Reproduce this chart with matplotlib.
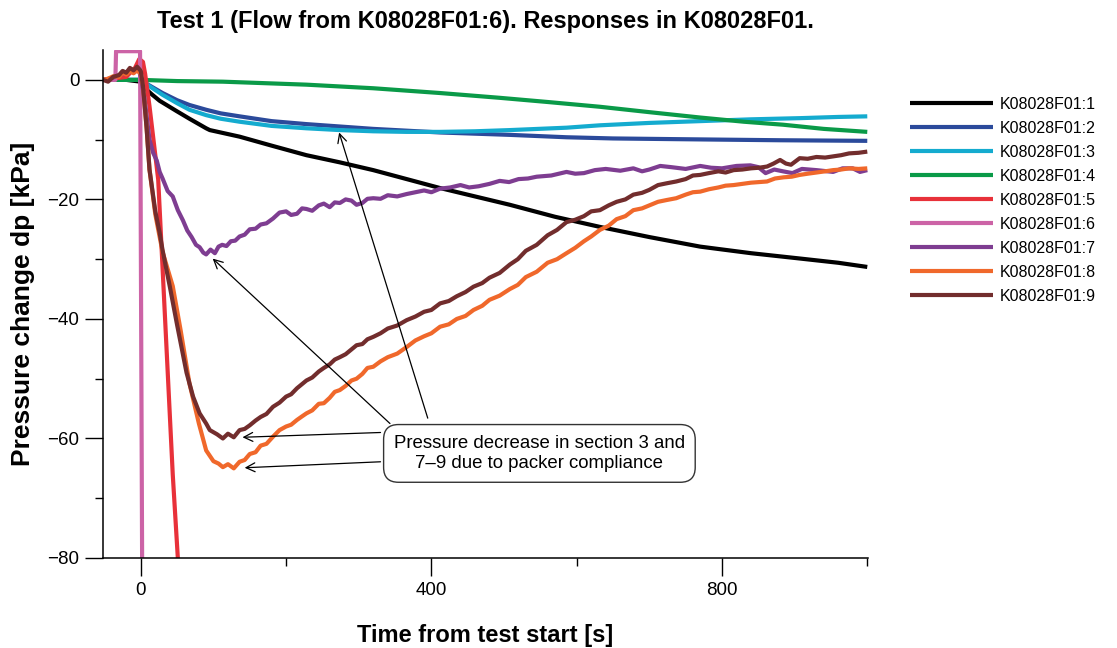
import matplotlib
matplotlib.use("Agg")
import matplotlib.pyplot as plt

plt.rcParams['font.family'] = ['Liberation Sans', 'DejaVu Sans']

# ---------------- data ----------------
labels = ["K08028F01:1", "K08028F01:2", "K08028F01:3", "K08028F01:4", "K08028F01:5",
          "K08028F01:6", "K08028F01:7", "K08028F01:8", "K08028F01:9"]
colors = ["#000000", "#2B4A9B", "#14ABCF", "#0A9A48", "#E8313A",
          "#CC63A6", "#7E3D91", "#F0682B", "#722D2D"]

t1 = [-52, -20, 0, 5, 15, 26, 49, 67, 90, 95, 136, 180, 228, 274, 320, 366, 412, 460, 508,
      570, 632, 700, 770, 840, 908, 960, 1000]
v1 = [0.0, 0.0, -0.3, -1.3, -2.4, -3.5, -5.2, -6.5, -8.1, -8.4, -9.5, -11.0, -12.6, -13.8, -15.1,
      -16.6, -18.1, -19.5, -20.9, -22.9, -24.6, -26.3, -27.9, -29.0, -29.9, -30.6, -31.3]

t2 = [-52, 0, 10, 30, 50, 67, 90, 110, 136, 180, 228, 274, 320, 366, 412, 460, 508, 586, 650,
      724, 800, 880, 1000]
v2 = [0.0, 0.0, -0.8, -2.2, -3.4, -4.2, -5.0, -5.6, -6.1, -6.9, -7.4, -7.8, -8.2, -8.5, -8.8,
      -9.0, -9.2, -9.6, -9.8, -9.9, -10.0, -10.1, -10.2]

t3 = [-52, 0, 10, 30, 50, 67, 90, 110, 136, 180, 228, 274, 320, 366, 412, 460, 508, 586, 632,
      700, 770, 840, 908, 960, 1000]
v3 = [0.0, 0.0, -0.9, -2.5, -3.9, -5.0, -5.9, -6.5, -7.0, -7.7, -8.1, -8.4, -8.6, -8.7, -8.7,
      -8.6, -8.4, -8.0, -7.6, -7.2, -6.9, -6.6, -6.4, -6.2, -6.1]

t4 = [-52, 0, 50, 113, 228, 320, 412, 494, 560, 632, 700, 770, 830, 884, 940, 1000]
v4 = [0.0, 0.0, -0.2, -0.3, -0.8, -1.4, -2.2, -3.0, -3.7, -4.5, -5.4, -6.3, -7.0, -7.5, -8.2, -8.7]

t5 = [-52, -20, -8, -2, 3, 6, 12, 24, 44, 51, 53]
v5 = [0.0, 0.5, 2.0, 3.5, 3.0, 1.0, -4.4, -16.7, -66.0, -80.0, -85.0]

t6 = [-52, -35, -34, -1, 2]
v6 = [0.0, 0.0, 4.8, 4.8, -85.0]

t7 = [-52, -40, -30, -20, -10, -3, 0, 5, 12, 17, 22, 26, 30, 37, 44, 51, 58, 64, 70, 76, 81,
      86, 90, 96, 102, 107, 112, 118, 124, 130, 136, 143, 150, 158, 165, 173, 182, 191, 200,
      207, 215, 222, 228, 236, 245, 252, 260, 267, 274, 282, 290, 297, 305, 312, 320, 330, 340,
      353, 366, 378, 390, 400, 412, 426, 440, 452, 465, 480, 494, 507, 520, 533, 545, 565, 586,
      598, 610, 625, 640, 660, 678, 690, 700, 715, 730, 750, 770, 785, 800, 820, 839, 850, 860,
      872, 884, 897, 910, 930, 953, 966, 980, 990, 1000]
v7 = [0.0, 0.3, 0.8, 1.2, 1.5, 1.8, 0.5, -3.0, -10.0, -12.2, -13.5, -15.4, -16.5, -18.6, -19.5,
      -21.8, -23.5, -25.2, -26.3, -27.6, -28.0, -28.9, -29.2, -28.4, -29.0, -27.9, -27.6, -27.8,
      -27.0, -26.9, -26.2, -25.9, -25.0, -24.9, -24.2, -24.0, -23.2, -22.2, -22.0, -22.6, -22.4,
      -21.5, -21.6, -21.9, -21.0, -20.7, -21.3, -20.5, -20.6, -20.0, -20.2, -20.9, -20.6, -19.9,
      -19.8, -19.9, -19.3, -19.5, -19.1, -18.8, -18.5, -18.8, -18.2, -18.0, -17.6, -18.0, -17.8,
      -17.4, -16.9, -17.1, -16.6, -16.5, -16.2, -16.0, -15.4, -15.7, -15.6, -15.1, -14.9, -15.2,
      -14.8, -15.3, -15.0, -14.4, -14.6, -14.9, -14.4, -14.7, -14.8, -14.4, -14.3, -14.6, -15.6,
      -15.0, -15.3, -15.6, -14.9, -15.1, -15.4, -14.8, -14.8, -15.4, -15.1]

t8 = [-52, -45, -38, -30, -25, -20, -15, -10, -5, 0, 3, 8, 12, 20, 30, 44, 55, 67, 80, 90, 100,
      107, 113, 120, 128, 136, 143, 150, 158, 165, 173, 182, 191, 200, 207, 215, 222, 228, 236,
      245, 252, 260, 267, 274, 282, 290, 297, 305, 312, 320, 330, 340, 353, 366, 378, 390, 400,
      412, 424, 435, 447, 458, 470, 480, 494, 508, 519, 530, 545, 560, 573, 586, 598, 610, 620,
      632, 644, 655, 667, 678, 690, 700, 712, 724, 737, 750, 760, 770, 782, 795, 805, 816, 828,
      840, 851, 862, 873, 885, 896, 907, 918, 930, 942, 953, 964, 975, 988, 1000]
v8 = [0.0, 0.2, 0.6, 0.5, 1.2, 0.9, 1.5, 1.1, 1.6, 1.0, -1.0, -8.0, -15.0, -22.5, -28.8, -34.5,
      -42.0, -50.8, -57.5, -62.0, -63.8, -64.2, -64.8, -64.3, -65.0, -63.9, -63.6, -62.6, -62.3,
      -61.2, -60.9, -59.7, -58.6, -58.0, -57.7, -56.9, -56.3, -55.8, -55.3, -54.2, -54.1, -53.2,
      -52.2, -51.9, -51.2, -50.3, -50.0, -49.2, -48.2, -48.0, -47.1, -46.4, -45.8, -44.7, -43.6,
      -42.9, -42.4, -41.3, -40.9, -40.0, -39.5, -38.5, -37.8, -36.8, -36.1, -35.0, -34.3, -33.0,
      -32.1, -30.6, -30.0, -29.0, -28.1, -27.0, -26.2, -25.1, -24.4, -23.3, -22.8, -21.8, -21.5,
      -21.0, -20.4, -20.1, -19.8, -19.2, -18.8, -18.7, -18.3, -18.0, -17.7, -17.6, -17.4, -17.2,
      -17.1, -17.0, -16.5, -16.3, -16.2, -15.9, -15.7, -15.5, -15.3, -15.1, -15.0, -14.8, -14.9,
      -14.8]

t9 = [-52, -45, -38, -30, -25, -20, -15, -10, -5, 0, 3, 8, 12, 20, 26, 30, 40, 50, 63, 72, 81,
      90, 95, 105, 113, 120, 128, 136, 143, 150, 158, 165, 173, 182, 191, 200, 207, 215, 222,
      228, 236, 245, 252, 260, 267, 274, 282, 290, 297, 305, 312, 320, 330, 340, 353, 366, 378,
      390, 400, 412, 424, 435, 447, 458, 470, 480, 494, 508, 519, 530, 545, 560, 573, 586, 598,
      610, 620, 632, 644, 655, 667, 678, 690, 700, 712, 724, 737, 750, 760, 770, 782, 795, 805,
      816, 828, 840, 851, 862, 871, 880, 888, 895, 907, 918, 930, 942, 953, 964, 975, 988, 1000]
v9 = [0.0, -0.3, 0.5, 0.8, 1.5, 1.2, 2.0, 1.6, 2.2, 1.5, -1.0, -8.0, -15.0, -22.0, -25.6, -28.5,
      -34.6, -41.0, -49.0, -53.0, -55.8, -57.5, -58.6, -59.3, -60.0, -59.2, -59.8, -58.6, -58.4,
      -57.8, -57.0, -56.4, -55.9, -54.7, -54.0, -53.0, -52.6, -51.6, -50.9, -50.3, -49.8, -48.8,
      -48.2, -47.6, -46.8, -46.4, -45.9, -45.1, -44.4, -44.2, -43.4, -43.0, -42.4, -41.6, -41.1,
      -40.2, -39.6, -38.8, -38.5, -37.4, -37.0, -36.2, -35.5, -34.6, -34.0, -33.1, -32.3, -30.9,
      -30.0, -28.6, -27.6, -26.0, -25.1, -23.8, -23.4, -22.8, -22.0, -21.8, -21.0, -20.4, -20.0,
      -19.2, -18.9, -18.4, -17.6, -17.3, -17.0, -16.6, -16.0, -15.9, -15.6, -15.3, -15.5, -15.1,
      -15.0, -14.8, -14.7, -14.5, -14.0, -13.4, -14.0, -14.2, -13.1, -13.2, -12.9, -13.0, -12.8,
      -12.6, -12.3, -12.2, -12.0]

times = [t1, t2, t3, t4, t5, t6, t7, t8, t9]
values = [v1, v2, v3, v4, v5, v6, v7, v8, v9]

x_major = [0, 400, 800]
x_minor = [200, 600, 1000]
y_major = [0, -20, -40, -60, -80]
y_minor = [-10, -30, -50, -70]

title = "Test 1 (Flow from K08028F01:6). Responses in K08028F01."
xlabel = "Time from test start [s]"
ylabel = "Pressure change dp [kPa]"
note = "Pressure decrease in section 3 and\n7\u20139 due to packer compliance"

# ---------------- figure ----------------
fig = plt.figure(figsize=(11.17, 6.48), dpi=100)
ax = fig.add_axes([103 / 1117, 1 - 558 / 648, (868 - 103) / 1117, (558 - 50) / 648])

for t, v, c, lab in zip(times, values, colors, labels):
    ax.plot(t, v, color=c, lw=3.0, label=lab, solid_capstyle='butt', solid_joinstyle='round')

ax.set_xlim(-52, 1001)
ax.set_ylim(-80, 5)

for s in ['top', 'right']:
    ax.spines[s].set_visible(False)
for s in ['left', 'bottom']:
    ax.spines[s].set_linewidth(1.1)

ax.set_xticks(x_major)
ax.set_xticks(x_minor, minor=True)
ax.set_yticks(y_major)
ax.set_yticks(y_minor, minor=True)
ax.tick_params(which='major', length=13, width=1.0, labelsize=13.5, pad=4)
ax.tick_params(which='minor', length=6, width=1.0)
ax.tick_params(axis='y', which='major', pad=4)

ax.set_title(title, fontsize=17, fontweight='bold', pad=16)
ax.set_xlabel(xlabel, fontsize=17, fontweight='bold', labelpad=18)
ax.set_ylabel(ylabel, fontsize=19, fontweight='bold', labelpad=9)

# annotations
arrow_targets = [(99, -29.9), (273, -8.8), (140, -59.8), (143, -64.9)]
arrow_tails = [(343, -57.5), (395, -56.6), (330, -59.0), (330, -63.9)]
for tgt, tail in zip(arrow_targets, arrow_tails):
    ax.annotate('', xy=tgt, xytext=tail,
                arrowprops=dict(arrowstyle='->', color='black', lw=0.9,
                                shrinkA=0, shrinkB=0, mutation_scale=16),
                zorder=6)

ax.text(548.7, -62.5, note, ha='center', va='center', fontsize=13.4, zorder=7,
        linespacing=1.25,
        bbox=dict(boxstyle='round,pad=0.55,rounding_size=0.8', fc='white',
                  ec='#333333', lw=1.0))

ax.legend(loc='upper left', bbox_to_anchor=(910 / 1117, 1 - 97 / 648),
          bbox_transform=fig.transFigure, frameon=False, fontsize=11.5,
          handlelength=5.2, handletextpad=0.45, labelspacing=0.56,
          borderpad=0, borderaxespad=0)

fig.savefig("out.png", dpi=100)
